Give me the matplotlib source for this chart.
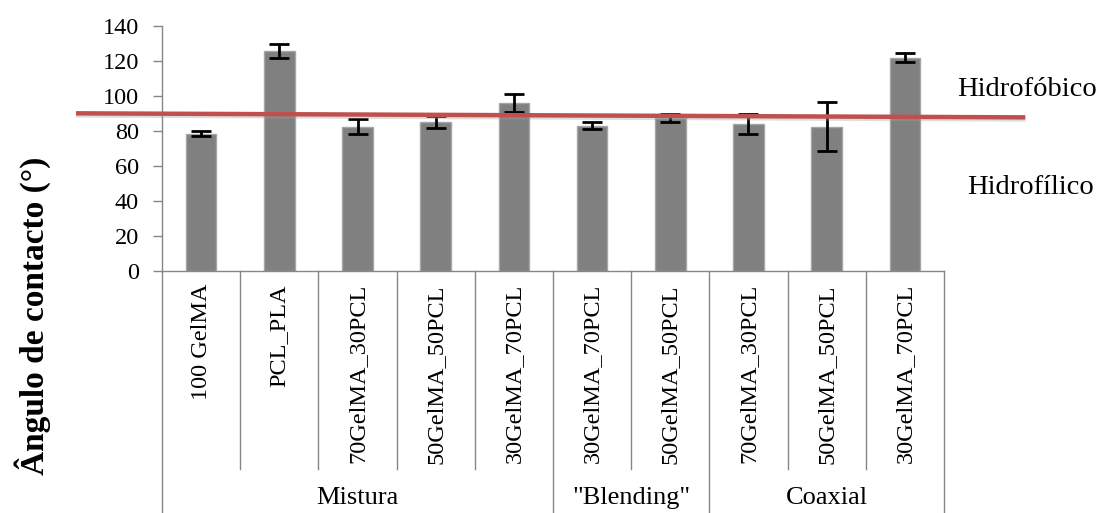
import matplotlib
matplotlib.use("Agg")
import matplotlib.pyplot as plt
import matplotlib.patheffects as pe
from matplotlib import transforms
import numpy as np

plt.rcParams['font.family'] = ['Liberation Serif', 'DejaVu Serif']

# Contact angle per sample (degrees) and standard deviation
samples = ["100 GelMA", "PCL_PLA", "70GelMA_30PCL", "50GelMA_50PCL", "30GelMA_70PCL",
           "30GelMA_70PCL", "50GelMA_50PCL",
           "70GelMA_30PCL", "50GelMA_50PCL", "30GelMA_70PCL"]
angles = [78.5, 125.8, 82.5, 85.0, 96.0, 83.0, 87.5, 84.0, 82.5, 122.0]
errors = [1.5, 3.8, 4.2, 3.5, 4.9, 2.0, 2.5, 5.8, 13.8, 2.3]

# Sample groups: (label, first index, last index)
groups = [("Mistura", 0, 4), ('"Blending"', 5, 6), ("Coaxial", 7, 9)]

# Hydrophobic / hydrophilic threshold (hand-drawn, slightly tilted)
threshold_x = [-1.6, 10.54]
threshold_y = [90.1, 87.8]

y_ticks = [0, 20, 40, 60, 80, 100, 120, 140]

W, H = 1103, 513
fig = plt.figure(figsize=(W / 100, H / 100), dpi=100)
ax = fig.add_axes([162 / W, 1 - 271 / H, (944 - 162) / W, (271 - 26) / H])

x = np.arange(len(samples))
ax.bar(x, angles, width=0.39, color="#808080", edgecolor="#a6a6a6", linewidth=1, zorder=2)
ax.errorbar(x, angles, yerr=errors, fmt="none", ecolor="black", elinewidth=2,
            capsize=7.5, capthick=2, zorder=3)

ax.set_xlim(-0.5, len(samples) - 0.5)
ax.set_ylim(0, 140)
ax.set_yticks(y_ticks)
ax.set_yticklabels([str(v) for v in y_ticks], fontsize=17.5)
ax.set_xticks([])
ax.tick_params(axis="y", direction="out", length=6.5, width=1, color="#868686", pad=10)
for s in ("top", "right"):
    ax.spines[s].set_visible(False)
for s in ("left", "bottom"):
    ax.spines[s].set_color("#868686")
    ax.spines[s].set_linewidth(1)

# Threshold line with a soft shadow
ax.plot(threshold_x, threshold_y, color="#C0504D", linewidth=3.2, clip_on=False, zorder=5,
        solid_capstyle="butt",
        path_effects=[pe.SimpleLineShadow(offset=(0, -1.5), shadow_color="#a0a0a0", alpha=0.35),
                      pe.Normal()])

# Category table beneath the axis
bt = transforms.blended_transform_factory(ax.transData, fig.transFigure)
y_axis = 1 - 271 / H
y_short = 1 - 469 / H
line_kw = dict(color="#868686", linewidth=1, transform=bt, clip_on=False)
group_edges = {g[1] for g in groups} | {groups[-1][2] + 1}
for i in range(len(samples) + 1):
    xe = i - 0.5
    y_end = 0.0 if i in group_edges else y_short
    ax.plot([xe, xe], [y_axis, y_end], **line_kw)

for i, name in enumerate(samples):
    ax.text(i, y_axis - 13 / H, name, rotation=90, ha="center", va="top",
            fontsize=17.5, transform=bt)

for label, a, b in groups:
    ax.text((a + b) / 2, 1 - 498 / H, label, ha="center", va="center",
            fontsize=19, transform=bt)

fig.text(33 / W, 1 - 316 / H, "Ângulo de contacto (°)", rotation=90, ha="center",
         va="center", fontsize=24, fontweight="bold")
fig.text(1027 / W, 1 - 90 / H, "Hidrofóbico", ha="center", va="center", fontsize=20.5)
fig.text(1031 / W, 1 - 188 / H, "Hidrofílico", ha="center", va="center", fontsize=20.5)

fig.savefig("out.png", dpi=100)
